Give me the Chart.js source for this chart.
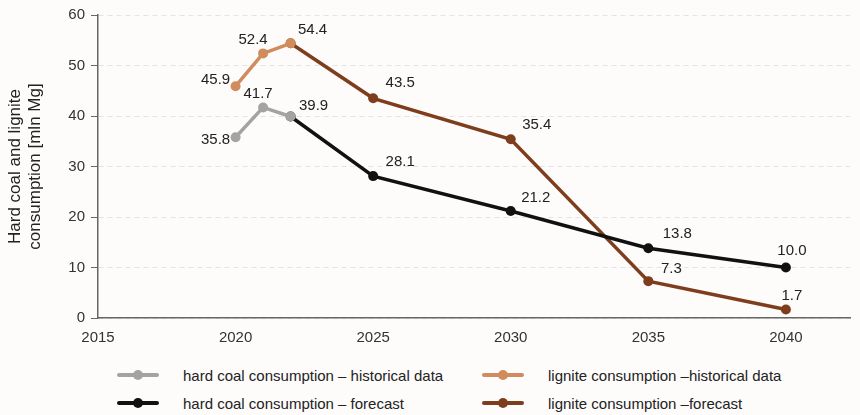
<!DOCTYPE html>
<html>
<head>
<meta charset="utf-8">
<script src="https://cdn.jsdelivr.net/npm/chart.js@4.4.0/dist/chart.umd.min.js"></script>
<style>
    body { margin: 0; background: #fdfcfb; }
    #wrap { position: relative; width: 860px; height: 415px; }
    #chart { position: absolute; left: 0; top: 0; }
    #legend {
        position: absolute; left: 117px; top: 366px;
        display: grid; grid-template-columns: 365px 330px; row-gap: 10px;
        font-family: "Liberation Sans", Arial, sans-serif;
        font-size: 15px; color: #222; white-space: nowrap;
    }
    .item { display: flex; align-items: center; height: 18px; }
    .mark { position: relative; width: 42px; height: 4px; margin-right: 24px; border-radius: 2px; }
    .mark span { position: absolute; left: 16px; top: -3px; width: 10px; height: 10px; border-radius: 50%; }
</style>
</head>
<body>
<div id="wrap">
    <canvas id="chart" width="860" height="350"></canvas>
    <div id="legend"></div>
</div>
<script>
// data
const histYears = [2020, 2021, 2022];
const forecastYears = [2022, 2025, 2030, 2035, 2040];

const hardCoalHist = [35.8, 41.7, 39.9];
const ligniteHist = [45.9, 52.4, 54.4];
const hardCoalForecast = [39.9, 28.1, 21.2, 13.8, 10.0];
const ligniteForecast = [54.4, 43.5, 35.4, 7.3, 1.7];

const xTicks = [2015, 2020, 2025, 2030, 2035, 2040];
const yTicks = [0, 10, 20, 30, 40, 50, 60];

const seriesNames = [
    'hard coal consumption \u2013 historical data',
    'lignite consumption \u2013historical data',
    'hard coal consumption \u2013 forecast',
    'lignite consumption \u2013forecast'
];
const seriesColors = ['#a3a3a3', '#d08c5c', '#111111', '#7e3e1d'];

// where the value labels sit relative to their point (null = no label)
const labelOffsets = [
    [[-20, 3], [-5, -14], [23, -11]],
    [[-20, -6], [-10, -14], [22, -13]],
    [null, [27, -14], [25, -13], [29, -14], [6, -17]],
    [null, [27, -15], [26, -14], [23, -12], [6, -14]]
];

function toPoints(xs, ys) {
    return xs.map(function (x, i) { return { x: x, y: ys[i] }; });
}

function makeDataset(i, xs, ys) {
    return {
        label: seriesNames[i],
        data: toPoints(xs, ys),
        borderColor: seriesColors[i],
        backgroundColor: seriesColors[i],
        borderWidth: 3.5,
        pointRadius: 5,
        pointBorderWidth: 0,
        pointHoverRadius: 5,
        tension: 0
    };
}

const valueLabels = {
    id: 'valueLabels',
    afterDatasetsDraw: function (chart) {
        const ctx = chart.ctx;
        ctx.save();
        ctx.font = '15px "Liberation Sans", Arial, sans-serif';
        ctx.fillStyle = '#222';
        ctx.textAlign = 'center';
        ctx.textBaseline = 'middle';
        chart.data.datasets.forEach(function (ds, i) {
            const meta = chart.getDatasetMeta(i);
            meta.data.forEach(function (pt, j) {
                const off = labelOffsets[i][j];
                if (!off) return;
                ctx.fillText(ds.data[j].y.toFixed(1), pt.x + off[0], pt.y + off[1]);
            });
        });
        ctx.restore();
    }
};

const font = { family: '"Liberation Sans", Arial, sans-serif', size: 15 };

const chart = new Chart(document.getElementById('chart'), {
    type: 'line',
    data: {
        datasets: [
            makeDataset(0, histYears, hardCoalHist),
            makeDataset(1, histYears, ligniteHist),
            makeDataset(2, forecastYears, hardCoalForecast),
            makeDataset(3, forecastYears, ligniteForecast)
        ]
    },
    options: {
        responsive: false,
        animation: false,
        layout: { padding: { top: 15, right: 10, bottom: 0, left: 0 } },
        plugins: {
            legend: { display: false },
            tooltip: { enabled: false }
        },
        scales: {
            x: {
                type: 'linear',
                min: 2015,
                max: 2042.33,
                grid: { display: false },
                border: { color: '#666', width: 1.5 },
                ticks: {
                    font: font, color: '#333', padding: 3,
                    callback: function (v) { return String(v); }
                },
                afterBuildTicks: function (scale) {
                    scale.ticks = xTicks.map(function (v) { return { value: v }; });
                }
            },
            y: {
                min: 0,
                max: 60,
                grid: { color: '#e4e4e4', tickColor: '#666', tickLength: 7, lineWidth: 1 },
                border: { color: '#666', width: 1.5, dash: [5, 4] },
                ticks: { font: font, color: '#333', padding: 6 },
                afterBuildTicks: function (scale) {
                    scale.ticks = yTicks.map(function (v) { return { value: v }; });
                },
                title: {
                    display: true,
                    text: ['Hard coal and lignite', 'consumption [mln Mg]'],
                    font: { family: '"Liberation Sans", Arial, sans-serif', size: 17 },
                    color: '#222',
                    padding: { top: 5, bottom: 0 }
                },
                afterFit: function (scale) {
                    scale.width = 98;
                }
            }
        }
    },
    plugins: [valueLabels]
});

// legend built from the same series
const legend = document.getElementById('legend');
chart.data.datasets.forEach(function (ds) {
    const item = document.createElement('div');
    item.className = 'item';
    item.innerHTML = '<div class="mark" style="background:' + ds.borderColor + '"><span style="background:' +
        ds.borderColor + '"></span></div><div>' + ds.label + '</div>';
    legend.appendChild(item);
});
</script>
</body>
</html>
